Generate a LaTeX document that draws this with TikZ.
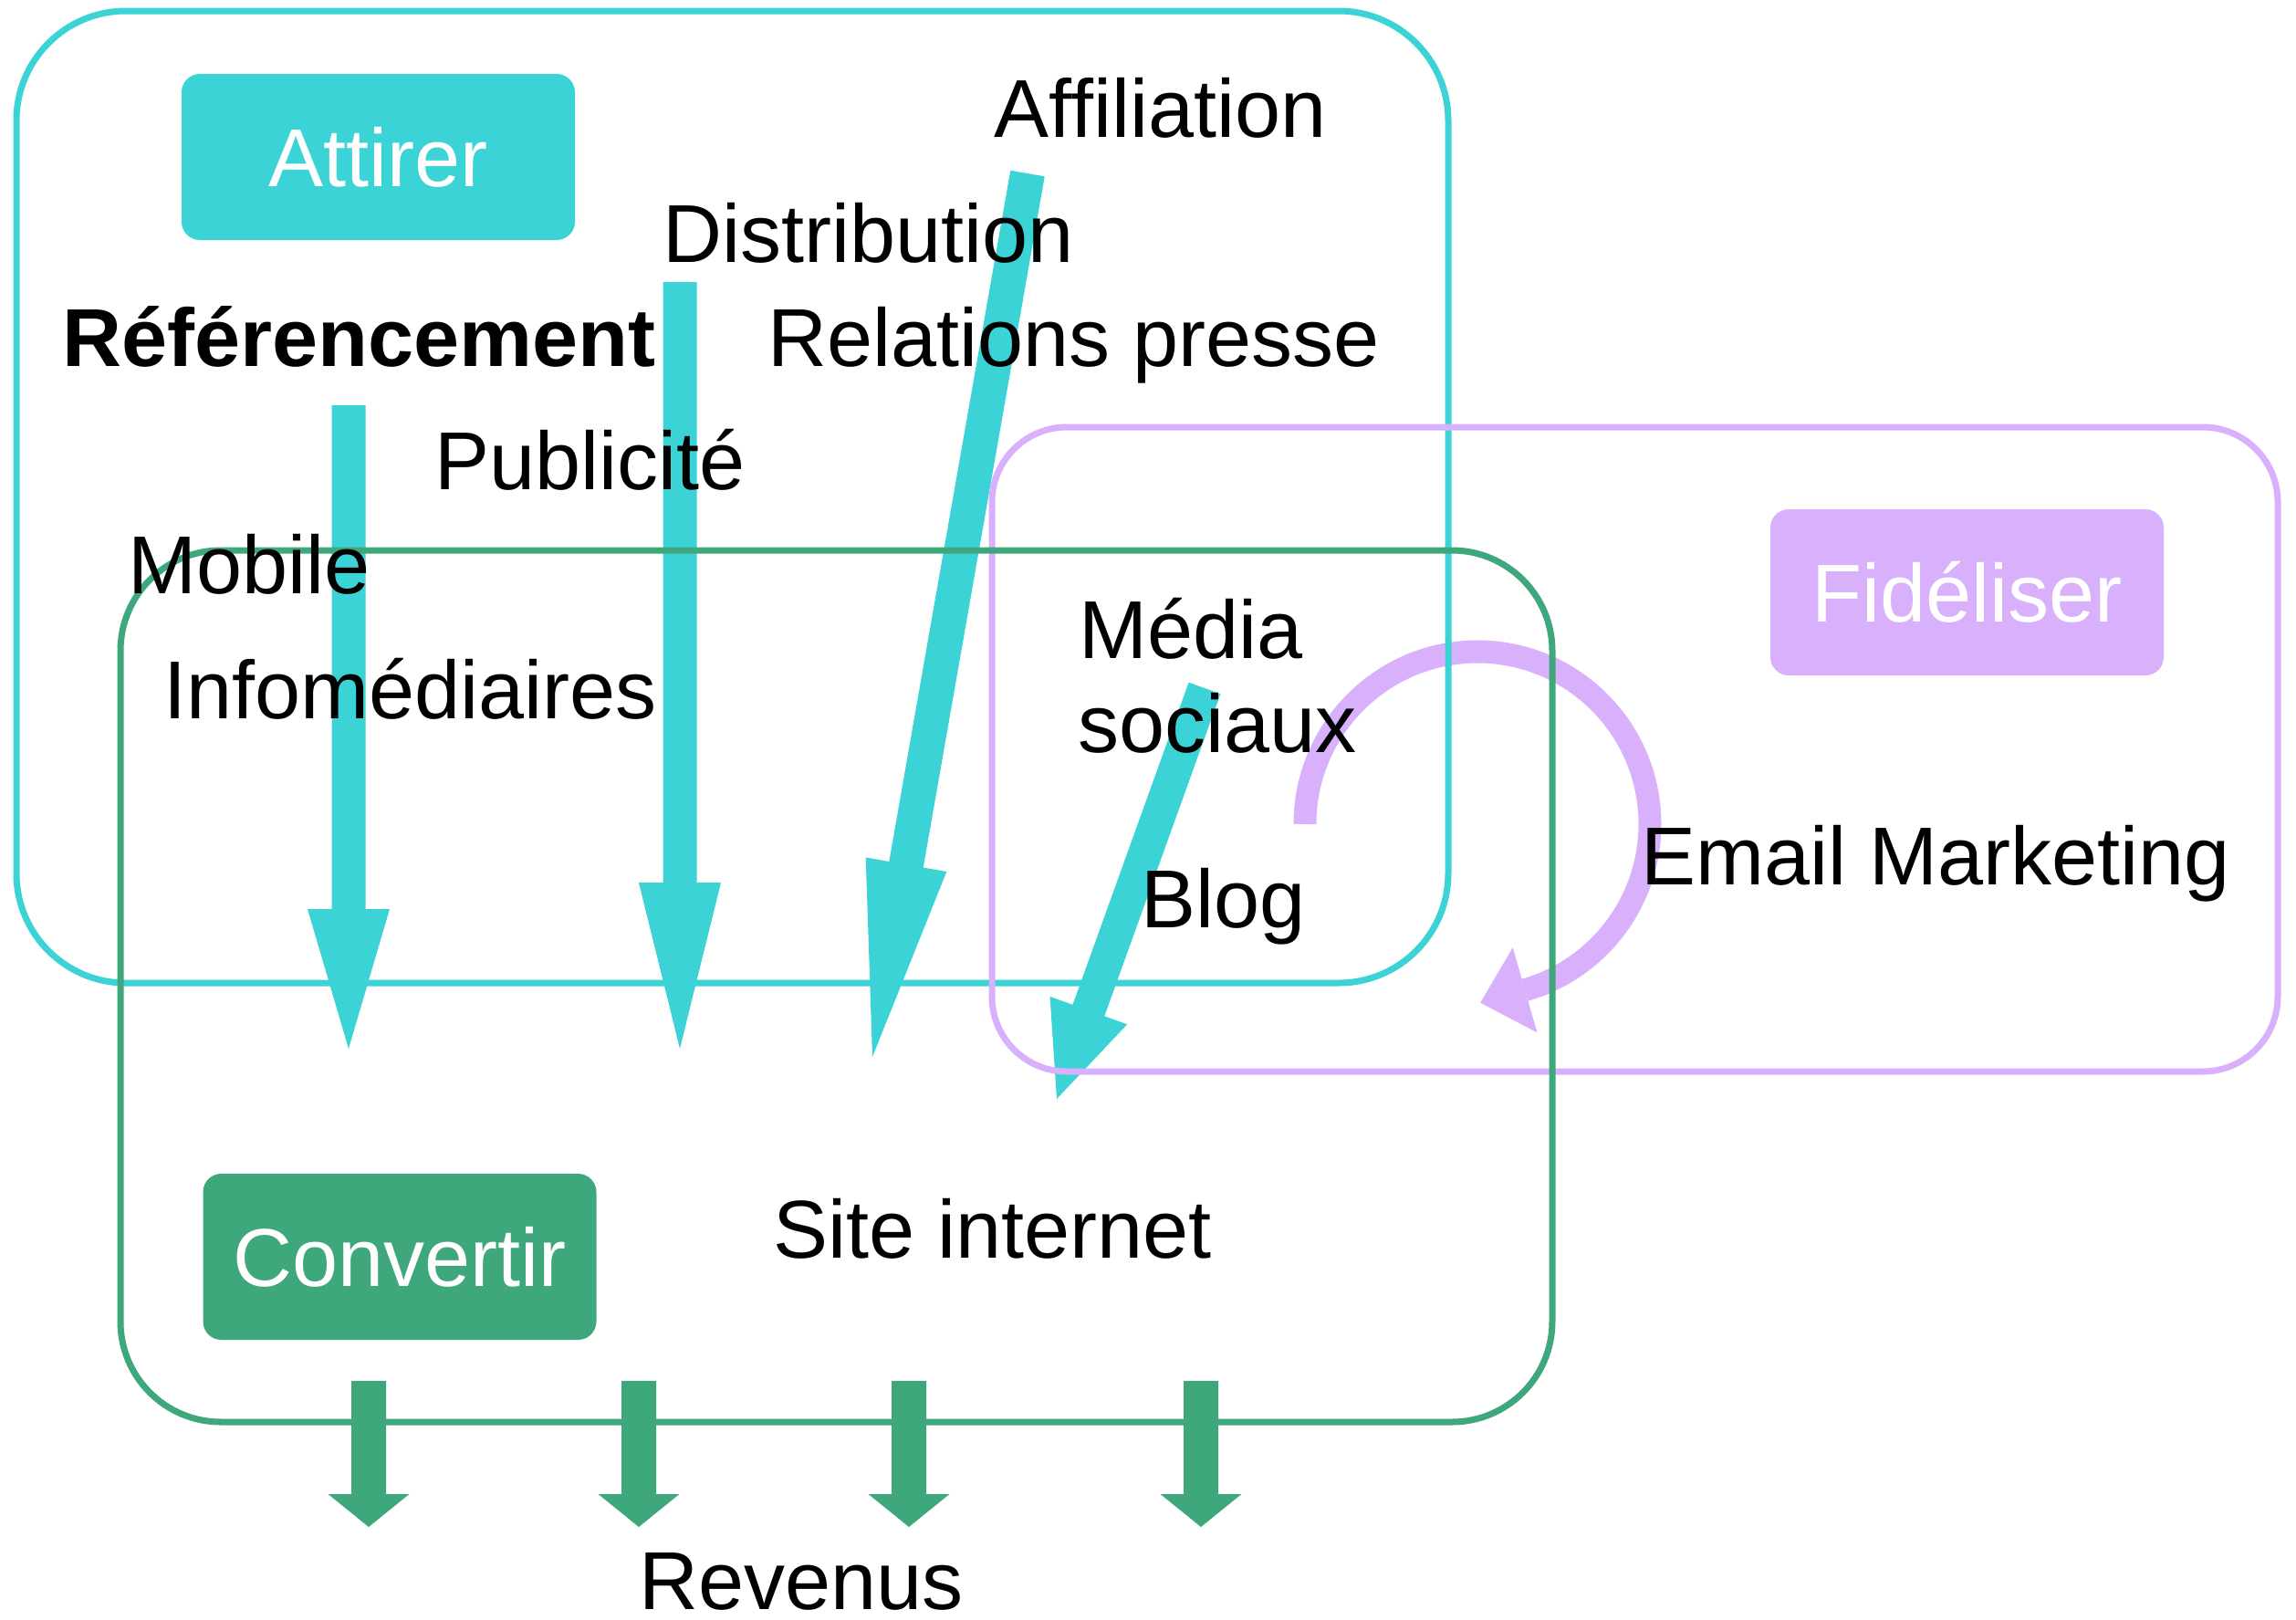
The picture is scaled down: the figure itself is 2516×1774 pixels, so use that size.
\documentclass[tikz,border=0pt]{standalone}
\usepackage{fontspec}
\setmainfont{Liberation Sans}
\usetikzlibrary{calc}
\definecolor{cyanC}{HTML}{3BD3D6}
\definecolor{greenC}{HTML}{3EA77B}
\definecolor{purpleC}{HTML}{D8B0FB}
% #1 tail, #2 tip, #3 half shaft width, #4 head length, #5 half head width, #6 colour
\newcommand\fatarrow[6]{%
  \coordinate (#1-b) at ($(#2)!#4!(#1)$);
  \fill[#6] ($(#1)!#3!90:(#2)$) -- ($(#1-b)!#3!90:(#2)$) -- ($(#1-b)!#5!90:(#2)$)
    -- (#2) -- ($(#1-b)!#5!-90:(#2)$) -- ($(#1-b)!#3!-90:(#2)$) -- ($(#1)!#3!-90:(#2)$) -- cycle;
}
\tikzset{
  lbl/.style={anchor=base west, inner sep=0pt, font=\fontsize{27pt}{32pt}\selectfont},
  tag/.style={rounded corners=6pt, minimum width=129.3pt, minimum height=54.6pt,
    inner sep=0pt, text=white, font=\fontsize{27pt}{32pt}\selectfont},
  frame/.style={line width=2.1pt},
}
\begin{document}
\begin{tikzpicture}[x=0.3pt,y=-0.3pt]
\useasboundingbox (0,0) rectangle (2516,1774);
% loop arrow (Fidéliser)
\coordinate (loopStart) at (1430,903);
\draw[purpleC, line width=7.5pt] (loopStart) arc (180:434:189) coordinate (loopBase);
\coordinate (loopTip) at ($(loopBase)+(-49,14)$);
\fill[purpleC] ($(loopBase)!14.55pt!90:(loopTip)$) -- (loopTip) -- ($(loopBase)!14.55pt!-90:(loopTip)$) -- cycle;
% cyan arrows
\coordinate (a1t) at (382,444);  \coordinate (a1h) at (382,1149);
\coordinate (a2t) at (745,309);  \coordinate (a2h) at (745,1149);
\coordinate (a3t) at (1126,190); \coordinate (a3h) at (956,1158);
\coordinate (a4t) at (1320,754); \coordinate (a4h) at (1158,1204);
\fatarrow{a1t}{a1h}{5.55pt}{45.9pt}{13.5pt}{cyanC}
\fatarrow{a2t}{a2h}{5.55pt}{54.6pt}{13.5pt}{cyanC}
\fatarrow{a3t}{a3h}{5.7pt}{64.2pt}{13.5pt}{cyanC}
\fatarrow{a4t}{a4h}{5.55pt}{30.9pt}{13.5pt}{cyanC}
% frames
\draw[frame, cyanC, rounded corners=36pt] (18,12) rectangle (1587,1077);
\draw[frame, purpleC, rounded corners=24.6pt] (1087,468) rectangle (2496,1174);
\draw[frame, greenC, rounded corners=33pt] (132,603) rectangle (1701,1558);
% green arrows
\foreach \i/\x in {1/404,2/700,3/996,4/1316}{
  \coordinate (g\i t) at (\x,1513); \coordinate (g\i h) at (\x,1673);
  \fatarrow{g\i t}{g\i h}{5.7pt}{10.8pt}{13.35pt}{greenC}
}
% tags
\node[tag, fill=cyanC] (attirer) at (414.5,172) {Attirer};
\node[tag, fill=purpleC] (fideliser) at (2155.5,649) {Fidéliser};
\node[tag, fill=greenC] (convertir) at (438,1377) {Convertir};
% labels
\node[lbl] (affiliation) at (1089,150) {Affiliation};
\node[lbl] (distribution) at (726,287) {Distribution};
\node[lbl, font=\fontsize{27pt}{32pt}\selectfont\bfseries] (referencement) at (68,401) {Référencement};
\node[lbl] (relations) at (841,401) {Relations presse};
\node[lbl] (publicite) at (476,536) {Publicité};
\node[lbl] (mobile) at (140,650) {Mobile};
\node[lbl] (infomediaires) at (179,787) {Infomédiaires};
\node[lbl] (media) at (1182,721) {Média};
\node[lbl] (sociaux) at (1181,824) {sociaux};
\node[lbl] (blog) at (1250,1016) {Blog};
\node[lbl] (email) at (1798,969) {Email Marketing};
\node[lbl] (site) at (847,1378) {Site internet};
\node[lbl, text depth=0pt] (revenus) at (700,1763) {Revenus};
\end{tikzpicture}
\end{document}
